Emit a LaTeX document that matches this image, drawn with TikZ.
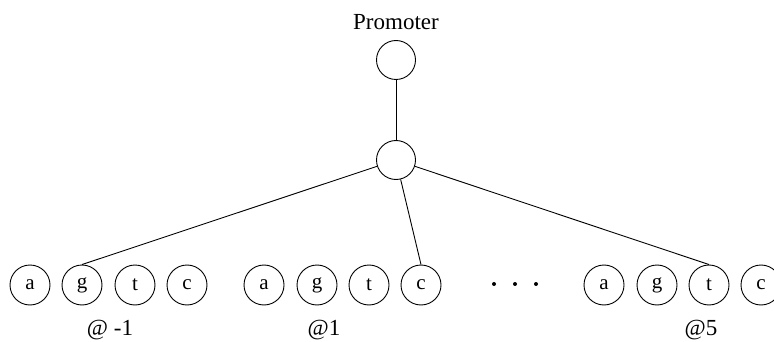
\documentclass[tikz,border=0pt]{standalone}
\usepackage{fontspec}
\setmainfont{Liberation Serif}
\begin{document}
\begin{tikzpicture}[x=1pt,y=-1pt,
  circ/.style={circle,draw,line width=0.9pt,minimum size=40pt,inner sep=0pt,font=\fontsize{21}{24}\selectfont},
  lbl/.style={font=\fontsize{23}{27}\selectfont,inner sep=0pt},
  edge/.style={line width=0.9pt}]
\useasboundingbox (0,0) rectangle (774,342);
\clip (0,0) rectangle (774,342);
\node[lbl] (prom) at (396,22) {Promoter};
\node[circ,minimum size=39pt] (top) at (396,60) {};
\node[circ,minimum size=39pt] (mid) at (396,160) {};
\foreach \n/\x/\t in {a1/30/a,g1/82/g,t1/135/t,c1/187/c,a2/264/a,g2/317/g,t2/369/t,c2/421/c,a3/604/a,g3/657/g,t3/709/t,c3/761/c}
  \node[circ] (\n) at (\x,285) {\t};
\foreach \n/\x in {d1/494,d2/515,d3/536}
  \node[circle,fill,inner sep=0pt,minimum size=4pt] (\n) at (\x,284) {};
\node[lbl,anchor=base] (l1) at (110,335) {@ -1};
\node[lbl,anchor=base] (l2) at (324,335) {@1};
\node[lbl,anchor=base] (l3) at (701,335) {@5};
\draw[edge] (top) -- (mid);
\draw[edge] (mid) -- (g1.north);
\draw[edge] (mid) -- (c2.north);
\draw[edge] (mid) -- (t3.north);
\end{tikzpicture}
\end{document}
